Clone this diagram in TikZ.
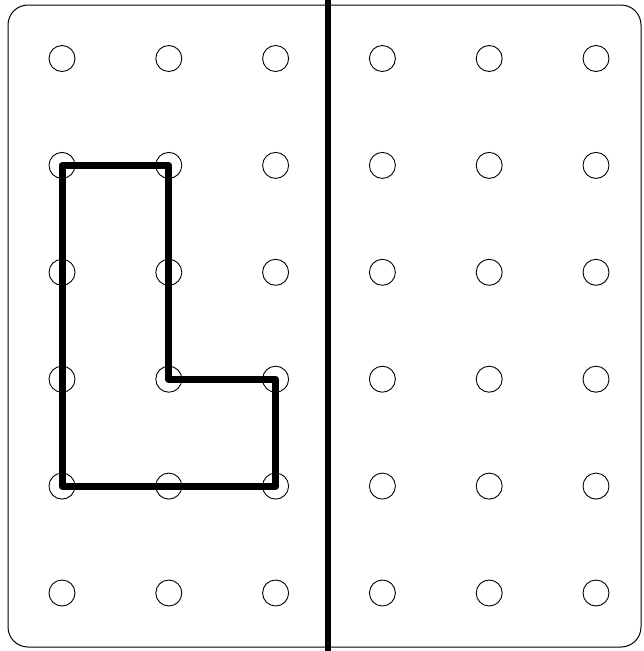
\documentclass[tikz,border=0pt]{standalone}
\begin{document}
\begin{tikzpicture}[x=1pt,y=-1pt,
  peg/.style={circle,draw=black,line width=0.9pt,minimum size=26pt,inner sep=0pt},
  board/.style={draw=black,line width=1pt,rounded corners=20pt},
  lshape/.style={draw=black,line width=7pt,line join=round},
  divider/.style={draw=black,line width=6pt}]
\useasboundingbox (0,0) rectangle (644,651);
\draw[board] (8,5) rectangle (641,647);
\foreach \i in {0,...,5}{
  \foreach \j in {0,...,5}{
    \node[peg] (p-\i-\j) at ({62+106.8*\i},{58.5+106.9*\j}) {};
  }
}
\coordinate (top) at (328,0);
\coordinate (bot) at (328,651);
\draw[divider] (top) -- (bot);
\draw[lshape] (p-0-1.center) -- (p-1-1.center) -- (p-1-3.center) -- (p-2-3.center) -- (p-2-4.center) -- (p-0-4.center) -- cycle;
\end{tikzpicture}
\end{document}
